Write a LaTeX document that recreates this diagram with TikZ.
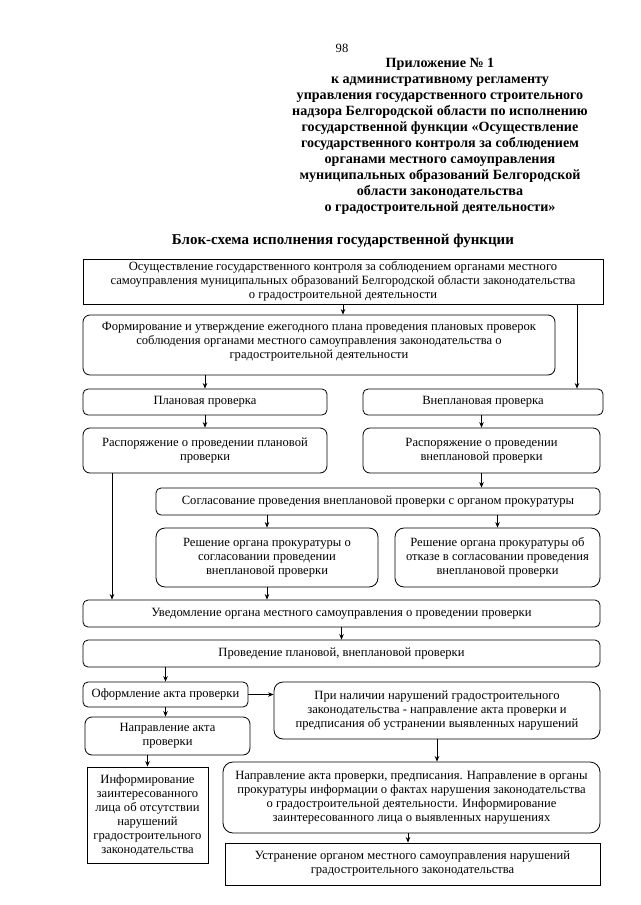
\documentclass[tikz,border=0pt]{standalone}
\usepackage{fontspec}
\setmainfont{Liberation Serif}
\usetikzlibrary{arrows.meta}
\begin{document}
\begin{tikzpicture}[x=1pt,y=-1pt,
  box/.style={draw=black, line width=0.8pt, align=center, inner sep=0pt, font=\fontsize{12.6}{14}\selectfont},
  rbox/.style={box, rounded corners=7pt},
  arr/.style={-{Stealth[length=5.5pt,width=4.5pt]}, line width=0.8pt},
  head/.style={align=center, inner sep=0pt, font=\bfseries\fontsize{14.1}{16}\selectfont}]
\useasboundingbox (0,0) rectangle (640,905);
\fill[white] (0,0) rectangle (640,905);

\node[inner sep=0pt, font=\fontsize{12.6}{14}\selectfont] (pg) at (342,48) {98};
\node[head] (hdr) at (440,136.5) {Приложение № 1\\к административному регламенту\\управления государственного строительного\\надзора Белгородской области по исполнению\\государственной функции «Осуществление\\государственного контроля за соблюдением\\органами местного самоуправления\\муниципальных образований Белгородской\\области законодательства\\о градостроительной деятельности»};
\node[inner sep=0pt, font=\bfseries\fontsize{15}{17}\selectfont] (ttl) at (343,241) {Блок-схема исполнения государственной функции};

\node[box, minimum width=520, minimum height=45] (b1) at (343,281.5) {Осуществление государственного контроля за соблюдением органами местного\\самоуправления муниципальных образований Белгородской области законодательства\\о градостроительной деятельности};
\node[rbox, minimum width=472, minimum height=60] (b2) at (319,345) {Формирование и утверждение ежегодного плана проведения плановых проверок\\соблюдения органами местного самоуправления законодательства о\\градостроительной деятельности\\[-4pt]\mbox{}};
\node[rbox, rounded corners=5pt, minimum width=244, minimum height=26] (plan) at (205,402) {Плановая проверка};
\node[rbox, rounded corners=5pt, minimum width=240, minimum height=26] (vplan) at (483,402) {Внеплановая проверка};
\node[rbox, minimum width=244, minimum height=45] (rasp1) at (205,450.5) {Распоряжение о проведении плановой\\проверки};
\node[rbox, minimum width=237, minimum height=45] (rasp2) at (481.5,450.5) {Распоряжение о проведении\\внеплановой проверки};
\node[rbox, rounded corners=5pt, minimum width=444, minimum height=27] (sogl) at (378,501.5) {Согласование проведения внеплановой проверки с органом прокуратуры};
\node[rbox, rounded corners=9pt, minimum width=222, minimum height=59] (resh1) at (267,557.5) {Решение органа прокуратуры о\\согласовании проведении\\внеплановой проверки};
\node[rbox, rounded corners=9pt, minimum width=205, minimum height=59] (resh2) at (497.5,557.5) {Решение органа прокуратуры об\\отказе в согласовании проведения\\внеплановой проверки};
\node[rbox, rounded corners=5pt, minimum width=517, minimum height=27] (uved) at (341.5,613.5) {Уведомление органа местного самоуправления о проведении проверки};
\node[rbox, rounded corners=5pt, minimum width=517, minimum height=27] (prov) at (341.5,653.5) {Проведение плановой, внеплановой проверки};
\node[rbox, rounded corners=5pt, minimum width=165, minimum height=25] (oform) at (165.5,694.5) {Оформление акта проверки};
\node[rbox, rounded corners=9pt, minimum width=326, minimum height=57] (prinal) at (437,710.5) {При наличии нарушений градостроительного\\законодательства - направление акта проверки и\\предписания об устранении выявленных нарушений};
\node[rbox, minimum width=165, minimum height=38] (napr) at (167.5,736) {Направление акта\\проверки};
\node[box, minimum width=121, minimum height=96] (inform) at (147.5,815) {Информирование\\заинтересованного\\лица об отсутствии\\нарушений\\градостроительного\\законодательства};
\node[rbox, rounded corners=10pt, minimum width=377, minimum height=71] (napr2) at (411.5,797.5) {Направление акта проверки, предписания. Направление в органы\\прокуратуры информации о фактах нарушения законодательства\\о градостроительной деятельности. Информирование\\заинтересованного лица о выявленных нарушениях};
\node[box, minimum width=375, minimum height=42] (ustr) at (412.5,864) {Устранение органом местного самоуправления нарушений\\градостроительного законодательства};

\coordinate (cr) at (577,0);
\coordinate (cl) at (112,0);
\coordinate (cu) at (408,0);

\draw[arr] (b1.south) -- (b1.south |- b2.north);
\draw[arr] (cr |- b1.south) -- (cr |- vplan.north);
\draw[arr] (plan.north |- b2.south) -- (plan.north);
\draw[arr] (plan.south) -- (rasp1.north);
\draw[arr] (rasp2.north |- vplan.south) -- (rasp2.north);
\draw[arr] (rasp2.south) -- (rasp2.south |- sogl.north);
\draw[arr] (resh1.north |- sogl.south) -- (resh1.north);
\draw[arr] (resh2.north |- sogl.south) -- (resh2.north);
\draw[arr] (resh1.south) -- (resh1.south |- uved.north);
\draw[arr] (cl |- rasp1.south) -- (cl |- uved.north);
\draw[arr] (uved.south) -- (uved.south |- prov.north);
\draw[arr] (oform.north |- prov.south) -- (oform.north);
\draw[arr] (oform.east) -- (oform.east -| prinal.west);
\draw[arr] (oform.south) -- (oform.south |- napr.north);
\draw[arr] (inform.north |- napr.south) -- (inform.north);
\draw[arr] (prinal.south) -- (prinal.south |- napr2.north);
\draw[arr] (cu |- napr2.south) -- (cu |- ustr.north);
\end{tikzpicture}
\end{document}
